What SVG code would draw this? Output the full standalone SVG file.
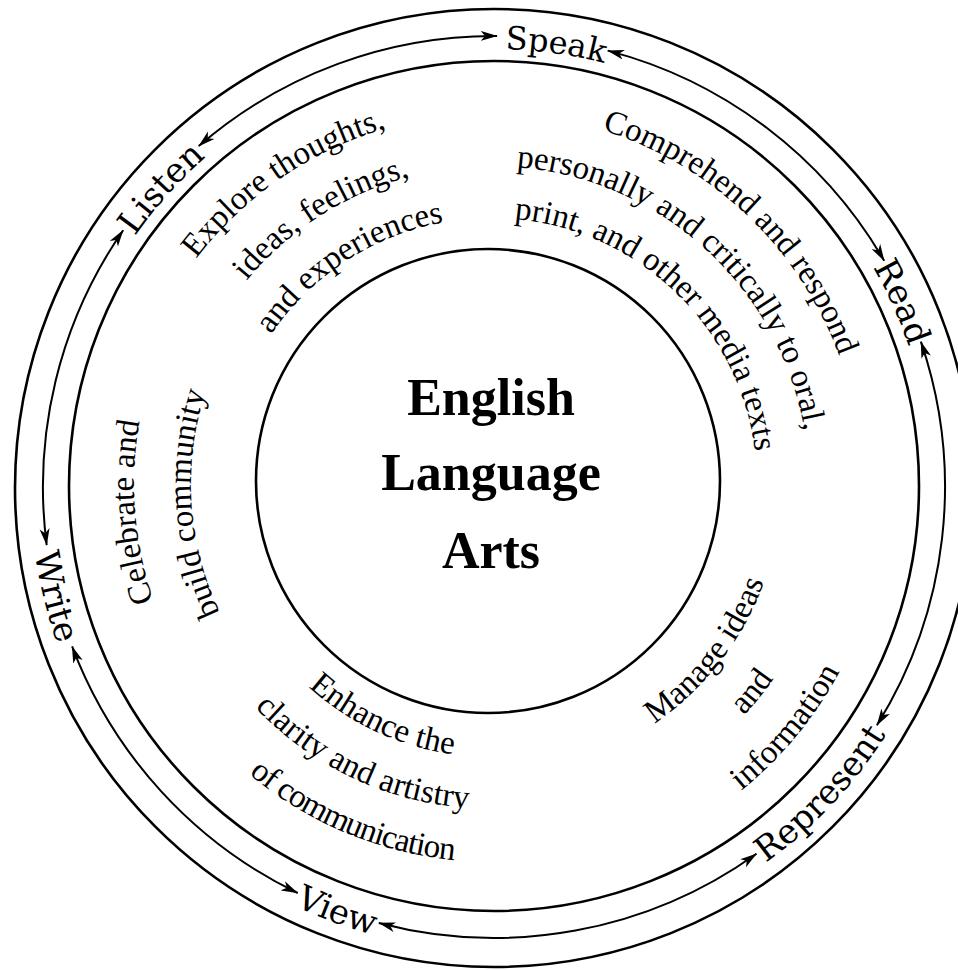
<svg xmlns="http://www.w3.org/2000/svg" xmlns:xlink="http://www.w3.org/1999/xlink" width="958" height="970" viewBox="0 0 958 970">
<style>
.ring{fill:none;stroke:#000;stroke-width:2.6}
.arc{fill:none;stroke:#000;stroke-width:2;marker-start:url(#ah);marker-end:url(#ah)}
.lbl{font-family:"DejaVu Serif","Liberation Serif",serif;font-size:34px;fill:#000}
.out{font-family:"Liberation Serif","Times New Roman",serif;font-size:33px;fill:#000}
.title{font-family:"Liberation Serif","Times New Roman",serif;font-size:52px;font-weight:bold;fill:#000;text-anchor:middle}
</style>
<defs>
<marker id="ah" viewBox="0 0 17 11" refX="16.5" refY="5.5" markerWidth="17" markerHeight="11" markerUnits="userSpaceOnUse" orient="auto-start-reverse"><path d="M0,0.5 L17,5.5 L0,10.5 L4.5,5.5 Z" fill="#000"/></marker>
<path id="lt438" d="M56 487 A438 438 0 0 1 932 487"/>
<path id="lb464" d="M30 487 A464 464 0 0 0 958 487"/>
<path id="t371" d="M120 484 A371 371 0 0 1 862 484"/>
<path id="t318" d="M173 484 A318 318 0 0 1 809 484"/>
<path id="t266" d="M225 484 A266 266 0 0 1 757 484"/>
<path id="t357" d="M134 484 A357 357 0 0 1 848 484"/>
<path id="t300" d="M191 484 A300 300 0 0 1 791 484"/>
<path id="b290" d="M201 484 A290 290 0 0 0 781 484"/>
<path id="b343" d="M148 484 A343 343 0 0 0 834 484"/>
<path id="b396" d="M95 484 A396 396 0 0 0 887 484"/>
<path id="b273" d="M218 484 A273 273 0 0 0 764 484"/>
<path id="b325" d="M166 484 A325 325 0 0 0 816 484"/>
<path id="b378" d="M113 484 A378 378 0 0 0 869 484"/>
</defs>
<rect width="958" height="970" fill="#fff"/>
<g id="rings">
<circle class="ring" cx="494" cy="488" r="479"/>
<circle class="ring" cx="494" cy="486" r="425"/>
</g>
<g id="connectors">
<path class="arc" d="M607.7 50.6 A451 451 0 0 1 884.2 260.8"/>
<path class="arc" d="M920.9 341.6 A451 451 0 0 1 876.9 725.3"/>
<path class="arc" d="M756.5 853.7 A451 451 0 0 1 378.8 923.0"/>
<path class="arc" d="M297.7 893.0 A451 451 0 0 1 72.1 646.4"/>
<path class="arc" d="M46.7 545.1 A451 451 0 0 1 123.2 230.2"/>
<path class="arc" d="M198.7 146.1 A451 451 0 0 1 497.1 36.0"/>
</g>
<g id="center">
<circle class="ring" cx="488" cy="481" r="232"/>
<text class="title" x="491" y="415">English</text>
<text class="title" x="491" y="490">Language</text>
<text class="title" x="491" y="568">Arts</text>
</g>
<g id="speak" transform="rotate(8 494 487)"><text class="lbl" text-anchor="middle" style="font-size:32px"><textPath href="#lt438" startOffset="50%">Speak</textPath></text></g>
<g id="read" transform="rotate(65.6 494 487)"><text class="lbl" text-anchor="middle"><textPath href="#lt438" startOffset="50%">Read</textPath></text></g>
<g id="represent" transform="rotate(-46.8 494 487)"><text class="lbl" text-anchor="middle"><textPath href="#lb464" startOffset="50%">Represent</textPath></text></g>
<g id="view" transform="rotate(20.3 494 487)"><text class="lbl" text-anchor="middle"><textPath href="#lb464" startOffset="50%">View</textPath></text></g>
<g id="write" transform="rotate(76 494 487)"><text class="lbl" text-anchor="middle"><textPath href="#lb464" startOffset="50%">Write</textPath></text></g>
<g id="listen" transform="rotate(-48.1 494 487)"><text class="lbl" text-anchor="middle"><textPath href="#lt438" startOffset="50%">Listen</textPath></text></g>
<g id="explore">
<text class="out" text-anchor="middle" transform="rotate(-34.5 491 484)"><textPath href="#t371" startOffset="50%">Explore thoughts,</textPath></text>
<text class="out" text-anchor="middle" transform="rotate(-32.5 491 484)"><textPath href="#t318" startOffset="50%">ideas, feelings,</textPath></text>
<text class="out" text-anchor="middle" transform="rotate(-33 491 484)"><textPath href="#t266" startOffset="50%">and experiences</textPath></text>
</g>
<g id="comprehend">
<text class="out" text-anchor="middle" transform="rotate(43.6 491 484)"><textPath href="#t371" startOffset="50%">Comprehend and respond</textPath></text>
<text class="out" text-anchor="middle" transform="rotate(42.5 491 484)"><textPath href="#t318" startOffset="50%">personally and critically to oral,</textPath></text>
<text class="out" text-anchor="middle" transform="rotate(44 491 484)"><textPath href="#t266" startOffset="50%">print, and other media texts</textPath></text>
</g>
<g id="celebrate">
<text class="out" text-anchor="middle" transform="rotate(-94.5 491 484)"><textPath href="#t357" startOffset="50%">Celebrate and</textPath></text>
<text class="out" text-anchor="middle" transform="rotate(-93.8 491 484)"><textPath href="#t300" startOffset="50%">build community</textPath></text>
</g>
<g id="manage">
<text class="out" text-anchor="middle" transform="rotate(-52.3 491 484)"><textPath href="#b290" startOffset="50%">Manage ideas</textPath></text>
<text class="out" text-anchor="middle" transform="rotate(-51.5 491 484)"><textPath href="#b343" startOffset="50%">and</textPath></text>
<text class="out" text-anchor="middle" transform="rotate(-50.5 491 484)"><textPath href="#b396" startOffset="50%">information</textPath></text>
</g>
<g id="enhance">
<text class="out" text-anchor="middle" transform="rotate(25 491 484)"><textPath href="#b273" startOffset="50%">Enhance the</textPath></text>
<text class="out" text-anchor="middle" transform="rotate(25.3 491 484)"><textPath href="#b325" startOffset="50%">clarity and artistry</textPath></text>
<text class="out" text-anchor="middle" style="letter-spacing:-1px" transform="rotate(22.8 491 484)"><textPath href="#b378" startOffset="50%">of communication</textPath></text>
</g>
</svg>
